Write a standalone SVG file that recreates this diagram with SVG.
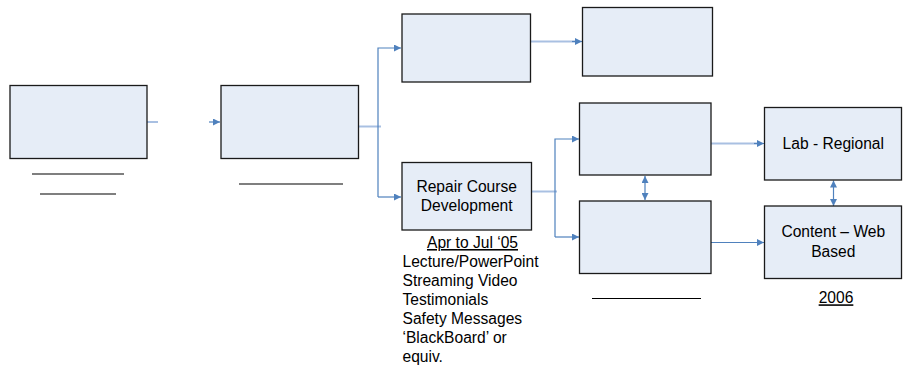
<svg xmlns="http://www.w3.org/2000/svg" width="907" height="370" viewBox="0 0 907 370">
  <style>
    .box { fill: #e6edf7; stroke: #1a1a1a; stroke-width: 1.3; }
    .shadow { fill: #9a9a9a; }
    .lbl { font-family: "Liberation Sans", Arial, sans-serif; font-size: 15.6px; fill: #000; }
    .mid { text-anchor: middle; }
    .c { fill: none; stroke: #4f81bd; stroke-width: 1.2; }
    .cl { fill: none; stroke: #a9c0e2; stroke-width: 2; }
    .rule { stroke: #000; stroke-width: 1.2; }
  </style>
  <defs>
    <marker id="ah" viewBox="0 0 10 10" refX="10" refY="5" markerWidth="7" markerHeight="7" markerUnits="userSpaceOnUse" orient="auto-start-reverse">
      <path d="M0,0 L10,5 L0,10 z" fill="#4f81bd"/>
    </marker>
  </defs>

  <rect width="907" height="370" fill="#fff"/>

  <g id="connectors">
    <!-- first box to second box (broken line) -->
    <path class="cl" d="M147,122 H158"/>
    <path class="c" d="M209,122 H220" marker-end="url(#ah)"/>
    <!-- second box fan-out -->
    <path class="cl" d="M359,126.5 H381"/>
    <path class="c" d="M378,197 V48 H401" marker-end="url(#ah)"/>
    <path class="c" d="M378,197 H401" marker-end="url(#ah)"/>
    <!-- top row -->
    <path class="cl" d="M531,41.5 H575"/>
    <path class="c" d="M572,41.5 H582" marker-end="url(#ah)"/>
    <!-- repair course fan-out -->
    <path class="cl" d="M532,191.5 H557"/>
    <path class="c" d="M555,237 V139 H579" marker-end="url(#ah)"/>
    <path class="c" d="M555,237 H579" marker-end="url(#ah)"/>
    <!-- middle column link -->
    <path class="c" d="M645,176 V200" marker-start="url(#ah)" marker-end="url(#ah)"/>
    <!-- to right column -->
    <path class="cl" d="M711,143.5 H757"/>
    <path class="c" d="M754,143.5 H764" marker-end="url(#ah)"/>
    <path class="c" d="M711,242.5 H764" marker-end="url(#ah)"/>
    <!-- right column link -->
    <path class="c" d="M833.5,180.5 V206" marker-start="url(#ah)" marker-end="url(#ah)"/>
  </g>

  <g id="n1">
    <rect class="box" x="10" y="85.5" width="137" height="73"/>
    <line class="rule" x1="32" y1="174" x2="124" y2="174"/>
    <line class="rule" x1="40" y1="194" x2="116" y2="194"/>
  </g>

  <g id="n2">
    <rect class="box" x="221" y="85.5" width="137.5" height="73"/>
    <line class="rule" x1="239" y1="184" x2="343" y2="184"/>
  </g>

  <g id="n3">
    <rect class="box" x="402" y="14" width="128.5" height="68"/>
  </g>

  <g id="n4">
    <rect class="box" x="582.5" y="7.5" width="130" height="68.5"/>
  </g>

  <g id="n5">
    <rect class="box" x="402" y="162.5" width="129.5" height="67.5"/>
    <text class="lbl mid" x="466.7" y="191.5">Repair Course</text>
    <text class="lbl mid" x="466.7" y="210.5">Development</text>
    <text class="lbl mid" x="472.5" y="248" text-decoration="underline">Apr to Jul ‘05</text>
    <text class="lbl" x="402.5" y="267">Lecture/PowerPoint</text>
    <text class="lbl" x="402.5" y="286">Streaming Video</text>
    <text class="lbl" x="402.5" y="305">Testimonials</text>
    <text class="lbl" x="402.5" y="324">Safety Messages</text>
    <text class="lbl" x="402.5" y="343">‘BlackBoard’ or</text>
    <text class="lbl" x="402.5" y="362">equiv.</text>
  </g>

  <g id="n6">
    <rect class="box" x="579.5" y="103" width="131.5" height="72"/>
  </g>

  <g id="n7">
    <rect class="box" x="579.5" y="201" width="131.5" height="72.5"/>
    <line class="rule" x1="592" y1="298.5" x2="701" y2="298.5"/>
  </g>

  <g id="n8">
    <rect class="box" x="764.5" y="107.5" width="137" height="72.5"/>
    <text class="lbl mid" x="833.3" y="149.3">Lab - Regional</text>
  </g>

  <g id="n9">
    <rect class="box" x="764.5" y="206" width="137" height="72.5"/>
    <text class="lbl mid" x="833.3" y="236.7">Content – Web</text>
    <text class="lbl mid" x="833.3" y="256.5">Based</text>
    <text class="lbl mid" x="836" y="303.3" text-decoration="underline">2006</text>
  </g>
</svg>
